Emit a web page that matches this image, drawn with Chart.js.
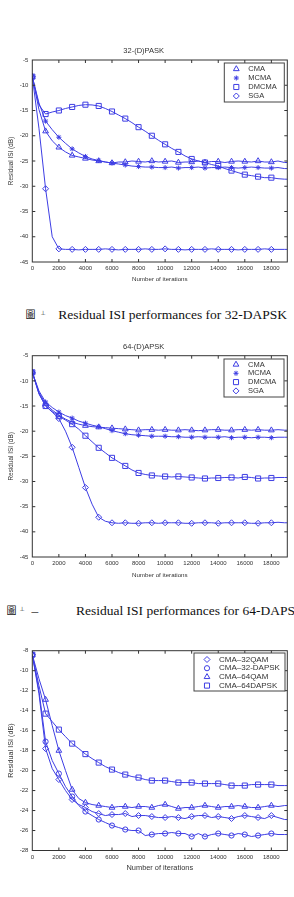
<!DOCTYPE html>
<html><head><meta charset="utf-8">
<script src="https://cdn.jsdelivr.net/npm/chart.js@4.4.1/dist/chart.umd.min.js"></script>
<style>
html,body{margin:0;padding:0;background:#fff;}
body{width:294px;height:897px;overflow:hidden;position:relative;}
canvas{position:absolute;left:0;}
.cap{position:absolute;white-space:nowrap;line-height:1;color:#111;}
.serif{font-family:"Liberation Serif","Times New Roman",serif;font-size:13.5px;}
.cjk{font-family:"Noto Sans CJK TC","Noto Sans CJK SC",sans-serif;font-size:10px;}
.sym{font-family:"DejaVu Sans",sans-serif;font-size:6px;}
</style></head><body>
<canvas id="c1" width="294" height="283" style="top:0px;width:294px;height:283px"></canvas>
<div class="cap cjk" style="left:25.5px;top:309px">圖</div>
<div class="cap sym" style="left:40.5px;top:309.5px">⊥</div>
<div class="cap serif" style="left:58.3px;top:307.6px">Residual ISI performances for 32-DAPSK</div>
<canvas id="c2" width="294" height="259" style="top:320px;width:294px;height:259px"></canvas>
<div class="cap cjk" style="left:6.5px;top:605px">圖</div>
<div class="cap sym" style="left:19.5px;top:605.5px">⊥</div>
<div class="cap serif" style="left:31.5px;top:603.6px">–</div>
<div class="cap serif" style="left:76px;top:603.6px">Residual ISI performances for 64-DAPSK</div>
<canvas id="c3" width="294" height="252" style="top:620px;width:294px;height:252px"></canvas>
<script>
// ---------- data ----------
const iterations = [0,500,1000,1500,2000,2500,3000,3500,4000,4500,5000,5500,6000,6500,7000,7500,8000,8500,9000,9500,10000,10500,11000,11500,12000,12500,13000,13500,14000,14500,15000,15500,16000,16500,17000,17500,18000,18500,19000,19200];
const xTickLabels = [0,2000,4000,6000,8000,10000,12000,14000,16000,18000];

// Chart 1: 32-(D)PASK
const title1 = "32-(D)PASK";
const labels1 = ["CMA","MCMA","DMCMA","SGA"];
const cma32 = [-8.3,-14.8,-19.1,-21.0,-22.3,-23.2,-23.9,-24.2,-24.5,-24.8,-25.0,-25.2,-25.4,-25.2,-25.2,-25.0,-25.1,-25.2,-25.0,-25.2,-25.1,-25.0,-25.3,-25.2,-25.2,-25.0,-25.3,-25.1,-25.1,-25.3,-25.1,-25.0,-25.1,-25.2,-25.0,-25.2,-25.2,-25.0,-25.3,-25.3];
const mcma32 = [-8.3,-13.5,-17.1,-18.8,-20.3,-21.5,-22.6,-23.4,-24.1,-24.6,-24.9,-25.2,-25.4,-25.6,-25.8,-26.0,-26.1,-26.2,-26.2,-26.3,-26.3,-26.2,-26.4,-26.3,-26.3,-26.2,-26.4,-26.3,-26.3,-26.2,-26.3,-26.4,-26.3,-26.2,-26.3,-26.4,-26.4,-26.3,-26.5,-26.5];
const dmcma32 = [-8.3,-13.9,-15.7,-15.3,-15.0,-14.6,-14.3,-14.0,-13.85,-13.9,-14.1,-14.6,-15.2,-15.9,-16.6,-17.4,-18.3,-19.1,-20.0,-20.9,-21.7,-22.5,-23.2,-24.0,-24.6,-25.0,-25.3,-25.7,-26.0,-26.5,-26.9,-27.3,-27.7,-27.9,-28.1,-28.3,-28.3,-28.5,-28.6,-28.6];
const sga32 = [-8.3,-18.5,-30.5,-40.0,-42.4,-42.5,-42.5,-42.6,-42.5,-42.5,-42.5,-42.4,-42.5,-42.6,-42.5,-42.5,-42.5,-42.4,-42.5,-42.5,-42.4,-42.5,-42.5,-42.6,-42.5,-42.5,-42.5,-42.4,-42.5,-42.5,-42.5,-42.6,-42.5,-42.5,-42.5,-42.4,-42.5,-42.5,-42.5,-42.5];
const yTicks1 = [-45,-40,-35,-30,-25,-20,-15,-10,-5];

// Chart 2: 64-(D)APSK
const title2 = "64-(D)APSK";
const labels2 = ["CMA","MCMA","DMCMA","SGA"];
const cma64 = [-8.3,-12.3,-14.6,-15.8,-16.8,-17.6,-18.2,-18.6,-18.9,-19.1,-19.2,-19.3,-19.4,-19.5,-19.6,-19.7,-19.8,-19.7,-19.7,-19.8,-19.7,-19.8,-19.8,-19.7,-19.8,-19.9,-19.8,-19.7,-19.7,-19.8,-19.8,-19.7,-19.7,-19.8,-19.7,-19.8,-19.8,-19.7,-19.8,-19.8];
const mcma64 = [-8.3,-12.0,-14.2,-15.3,-16.2,-16.9,-17.4,-18.0,-18.4,-18.8,-19.1,-19.5,-19.9,-20.2,-20.5,-20.7,-20.8,-20.9,-21.0,-21.0,-21.0,-21.1,-21.1,-21.2,-21.2,-21.1,-21.2,-21.2,-21.2,-21.1,-21.3,-21.2,-21.2,-21.3,-21.2,-21.2,-21.3,-21.2,-21.2,-21.2];
const dmcma64 = [-8.3,-12.5,-15.0,-16.1,-17.0,-17.8,-18.6,-19.6,-20.9,-22.1,-23.3,-24.3,-25.3,-26.1,-26.9,-27.7,-28.3,-28.6,-28.8,-28.9,-29.0,-29.1,-29.0,-29.1,-29.2,-29.3,-29.4,-29.3,-29.3,-29.2,-29.2,-29.3,-29.1,-29.2,-29.4,-29.3,-29.3,-29.2,-29.2,-29.2];
const sga64 = [-8.3,-12.6,-15.0,-16.2,-17.5,-20.0,-23.2,-27.2,-31.2,-34.5,-37.1,-37.9,-38.2,-38.3,-38.2,-38.3,-38.3,-38.2,-38.2,-38.3,-38.2,-38.2,-38.2,-38.3,-38.3,-38.2,-38.2,-38.2,-38.3,-38.2,-38.2,-38.2,-38.2,-38.3,-38.3,-38.2,-38.2,-38.1,-38.2,-38.2];
const yTicks2 = [-45,-40,-35,-30,-25,-20,-15,-10,-5];

// Chart 3: CMA comparison
const labels3 = ["CMA–32QAM","CMA–32-DAPSK","CMA–64QAM","CMA–64DAPSK"];
const cmaQam32 = [-8.4,-12.3,-17.8,-19.8,-20.9,-22.0,-22.9,-23.4,-23.7,-24.1,-24.3,-24.5,-24.4,-24.4,-24.3,-24.6,-24.5,-24.5,-24.6,-24.7,-24.7,-24.6,-24.7,-24.8,-24.6,-24.5,-24.5,-24.7,-24.6,-24.7,-24.8,-24.6,-24.5,-24.6,-24.7,-24.8,-24.5,-24.7,-24.9,-24.9];
const cmaDapsk32 = [-8.4,-12.0,-17.1,-19.0,-20.3,-21.6,-22.6,-23.5,-24.1,-24.5,-24.9,-25.2,-25.5,-25.7,-25.9,-26.0,-26.0,-26.5,-26.4,-26.3,-26.3,-26.2,-26.3,-26.3,-26.6,-26.3,-26.6,-26.4,-26.3,-26.4,-26.5,-26.3,-26.4,-26.6,-26.5,-26.4,-26.3,-26.4,-26.4,-26.4];
const cmaQam64 = [-8.4,-10.8,-12.9,-15.5,-18.0,-20.0,-21.9,-22.8,-23.2,-23.4,-23.5,-23.6,-23.7,-23.6,-23.6,-23.7,-23.6,-23.6,-23.7,-23.5,-23.4,-23.6,-23.8,-23.7,-23.7,-23.6,-23.5,-23.6,-23.7,-23.6,-23.6,-23.5,-23.6,-23.7,-23.7,-23.6,-23.5,-23.6,-23.5,-23.5];
const cmaDapsk64 = [-8.4,-11.5,-14.3,-15.1,-15.9,-16.6,-17.3,-17.8,-18.35,-18.8,-19.2,-19.6,-19.9,-20.2,-20.4,-20.6,-20.7,-20.9,-21.0,-21.0,-21.0,-21.1,-21.2,-21.2,-21.2,-21.3,-21.3,-21.3,-21.3,-21.4,-21.5,-21.5,-21.5,-21.4,-21.4,-21.4,-21.4,-21.5,-21.5,-21.5];
const yTicks3 = [-28,-26,-24,-22,-20,-18,-16,-14,-12,-10,-8];

// ---------- styling / helpers ----------
const LINE = 'rgb(62,62,228)';
const TXT = '#333';
const SANS = '"Liberation Sans", Arial, sans-serif';

function series(label, values, style, radius) {
  return {
    label, data: values.map((v, i) => ({x: iterations[i], y: v})),
    borderColor: LINE, borderWidth: 1, backgroundColor: 'rgba(0,0,0,0)',
    pointStyle: style, pointBorderColor: LINE, pointBackgroundColor: 'rgba(0,0,0,0)',
    pointBorderWidth: 1, tension: 0,
    pointRadius: c => { const x = iterations[c.dataIndex]; return (x % 1000 === 0 && x <= 18000) ? radius : 0; },
    pointHoverRadius: 0, legRadius: radius
  };
}

const framePlugin = {
  id: 'frame',
  afterDraw(chart) {
    const {ctx, chartArea: a, scales: {x, y}} = chart;
    const o = chart.options.plugins.frame;
    ctx.save();
    ctx.strokeStyle = '#333'; ctx.lineWidth = 1;
    ctx.beginPath();
    const L = 3;
    x.ticks.forEach(t => { const px = x.getPixelForValue(t.value);
      if (px > a.left + 1 && px < a.right - 1) { ctx.moveTo(px, a.bottom); ctx.lineTo(px, a.bottom - L); ctx.moveTo(px, a.top); ctx.lineTo(px, a.top + L); } });
    y.ticks.forEach(t => { const py = y.getPixelForValue(t.value);
      if (py > a.top + 1 && py < a.bottom - 1) { ctx.moveTo(a.left, py); ctx.lineTo(a.left + L, py); ctx.moveTo(a.right, py); ctx.lineTo(a.right - L, py); } });
    ctx.stroke();
    ctx.strokeRect(a.left, a.top, a.right - a.left, a.bottom - a.top);
    // legend box inside chart area (top right)
    const bw = o.boxW, bh = o.boxH;
    const bx = a.right - o.inset - bw, by = a.top + o.inset;
    ctx.fillStyle = '#fff';
    ctx.fillRect(bx, by, bw, bh);
    ctx.strokeStyle = '#444';
    ctx.strokeRect(bx, by, bw, bh);
    ctx.font = o.fontSize + 'px ' + SANS;
    ctx.textBaseline = 'middle'; ctx.textAlign = 'left';
    chart.data.datasets.forEach((ds, i) => {
      const ry = by + o.firstRow + i * o.rowStep;
      ctx.strokeStyle = LINE; ctx.fillStyle = 'rgba(0,0,0,0)'; ctx.lineWidth = 1;
      Chart.helpers.drawPoint(ctx, {pointStyle: ds.pointStyle, radius: ds.legRadius, rotation: 0, borderWidth: 1}, bx + o.markerX, ry);
      ctx.fillStyle = TXT;
      ctx.fillText(ds.label, bx + o.textX, ry);
    });
    ctx.restore();
  }
};

function makeChart(id, datasets, yMin, yMax, yStep, opt) {
  return new Chart(document.getElementById(id), {
    type: 'line',
    data: {datasets},
    plugins: [framePlugin],
    options: {
      responsive: false, animation: false, events: [],
      layout: {padding: {left: 0, right: 6.7, top: opt.padTop, bottom: 0}},
      plugins: {
        legend: {display: false}, tooltip: {enabled: false},
        title: opt.title ? {display: true, text: opt.title, color: TXT,
          font: {family: SANS, size: 7.5, weight: 'normal', lineHeight: 1.2},
          padding: {top: opt.titlePadTop, bottom: opt.titlePadBottom}} : {display: false},
        frame: opt.legend
      },
      scales: {
        x: {type: 'linear', min: 0, max: 19200,
          afterBuildTicks: s => { s.ticks = xTickLabels.map(v => ({value: v})); },
          afterFit: s => { s.height = opt.xAxisH; },
          grid: {display: false, drawTicks: false}, border: {display: false},
          ticks: {color: TXT, font: {family: SANS, size: 6}, padding: opt.xTickPad, maxRotation: 0, autoSkip: false, callback: v => String(v)},
          title: {display: true, text: 'Number of iterations', color: TXT, font: {family: SANS, size: opt.xTitleSize, lineHeight: 1.2}, padding: {top: 0, bottom: 0}}
        },
        y: {type: 'linear', min: yMin, max: yMax,
          afterBuildTicks: s => { s.ticks = opt.yTicks.map(v => ({value: v})); },
          afterFit: s => { s.width = 32.3; },
          grid: {display: false, drawTicks: false}, border: {display: false},
          ticks: {color: TXT, font: {family: SANS, size: 6}, padding: 4, autoSkip: false, callback: v => String(v)},
          title: {display: true, text: 'Residual ISI (dB)', color: TXT, font: {family: SANS, size: opt.yTitleSize, lineHeight: 1.2}, padding: {top: 7, bottom: 0}}
        }
      }
    }
  });
}

makeChart('c1', [
  series(labels1[0], cma32, 'triangle', 3.3),
  series(labels1[1], mcma32, 'star', 2.5),
  series(labels1[2], dmcma32, 'rect', 3.6),
  series(labels1[3], sga32, 'rectRot', 3)
], -45, -5, 5, {title: title1, titlePadTop: 46.5, titlePadBottom: 4.5, padTop: 0, xAxisH: 21, xTickPad: 3, xTitleSize: 6.2, yTitleSize: 6.4, yTicks: yTicks1,
  legend: {boxW: 60, boxH: 39, inset: 3, firstRow: 6, rowStep: 9, markerX: 12, textX: 24, fontSize: 7.5}});

makeChart('c2', [
  series(labels2[0], cma64, 'triangle', 3.3),
  series(labels2[1], mcma64, 'star', 2.5),
  series(labels2[2], dmcma64, 'rect', 3.6),
  series(labels2[3], sga64, 'rectRot', 3)
], -45, -5, 5, {title: title2, titlePadTop: 22.5, titlePadBottom: 4.2, padTop: 0, xAxisH: 22, xTickPad: 3, xTitleSize: 6.2, yTitleSize: 6.4, yTicks: yTicks2,
  legend: {boxW: 60, boxH: 38, inset: 3.3, firstRow: 5.5, rowStep: 8.8, markerX: 12, textX: 24, fontSize: 7.5}});

makeChart('c3', [
  series(labels3[0], cmaQam32, 'rectRot', 3),
  series(labels3[1], cmaDapsk32, 'circle', 2.6),
  series(labels3[2], cmaQam64, 'triangle', 3.3),
  series(labels3[3], cmaDapsk64, 'rect', 3.6)
], -28, -8, 2, {title: null, padTop: 30.7, xAxisH: 21.5, xTickPad: 3.7, xTitleSize: 7.4, yTitleSize: 7.2, yTicks: yTicks3,
  legend: {boxW: 91, boxH: 38, inset: 2.3, firstRow: 6.5, rowStep: 8.7, markerX: 13, textX: 25, fontSize: 8}});
</script>
</body></html>
